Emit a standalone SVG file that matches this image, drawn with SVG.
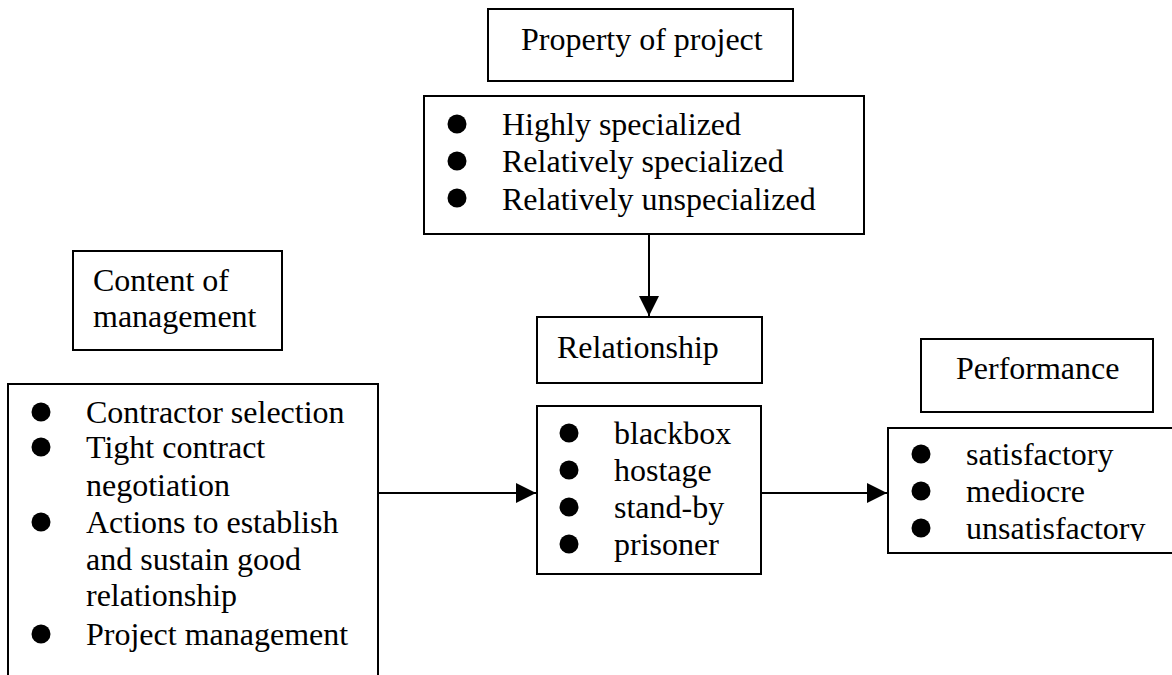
<svg xmlns="http://www.w3.org/2000/svg" width="1172" height="675" viewBox="0 0 1172 675">
<style>
.box{fill:#fff;stroke:#000;stroke-width:2}
.t{font-family:"Liberation Serif","Times New Roman",serif;font-size:32px;fill:#000}
.b{fill:#000}
.c{stroke:#000;stroke-width:2;fill:none}
</style>
<defs>
<marker id="ah" viewBox="0 0 20 20" refX="20" refY="10" markerWidth="20" markerHeight="20" markerUnits="userSpaceOnUse" orient="auto">
<path d="M0,0 L20,10 L0,20 Z" fill="#000"/>
</marker>
<clipPath id="perfclip"><rect x="888" y="428" width="290" height="113"/></clipPath>
</defs>
<rect width="1172" height="675" fill="#fff"/>

<g id="property-header">
<rect class="box" x="488" y="9" width="305" height="72"/>
<text class="t" x="521" y="50">Property of project</text>
</g>

<g id="property-list">
<rect class="box" x="424" y="96" width="440" height="138"/>
<circle class="b" cx="457" cy="124" r="9.5"/>
<circle class="b" cx="457" cy="161" r="9.5"/>
<circle class="b" cx="457" cy="198" r="9.5"/>
<text class="t" x="502" y="135">Highly specialized</text>
<text class="t" x="502" y="172">Relatively specialized</text>
<text class="t" x="502" y="210">Relatively unspecialized</text>
</g>

<g id="content-header">
<rect class="box" x="73" y="251" width="209" height="99"/>
<text class="t" x="93" y="291">Content of</text>
<text class="t" x="93" y="327">management</text>
</g>

<g id="content-list">
<rect class="box" x="8" y="384" width="370" height="310"/>
<circle class="b" cx="41" cy="412" r="9.5"/>
<circle class="b" cx="41" cy="447" r="9.5"/>
<circle class="b" cx="41" cy="522" r="9.5"/>
<circle class="b" cx="41" cy="634" r="9.5"/>
<text class="t" x="86" y="423">Contractor selection</text>
<text class="t" x="86" y="458">Tight contract</text>
<text class="t" x="86" y="496">negotiation</text>
<text class="t" x="86" y="533">Actions to establish</text>
<text class="t" x="86" y="570">and sustain good</text>
<text class="t" x="86" y="606">relationship</text>
<text class="t" x="86" y="645">Project management</text>
</g>

<g id="relationship-header">
<rect class="box" x="537" y="317" width="225" height="66"/>
<text class="t" x="557" y="358">Relationship</text>
</g>

<g id="relationship-list">
<rect class="box" x="537" y="406" width="224" height="168"/>
<circle class="b" cx="569" cy="433" r="9.5"/>
<circle class="b" cx="569" cy="470" r="9.5"/>
<circle class="b" cx="569" cy="507" r="9.5"/>
<circle class="b" cx="569" cy="544" r="9.5"/>
<text class="t" x="614" y="444">blackbox</text>
<text class="t" x="614" y="481">hostage</text>
<text class="t" x="614" y="518">stand-by</text>
<text class="t" x="614" y="555">prisoner</text>
</g>

<g id="performance-header">
<rect class="box" x="921" y="339" width="232" height="73"/>
<text class="t" x="956" y="379">Performance</text>
</g>

<g id="performance-list">
<rect class="box" x="888" y="428" width="300" height="125"/>
<g clip-path="url(#perfclip)">
<circle class="b" cx="921" cy="454" r="9.5"/>
<circle class="b" cx="921" cy="491" r="9.5"/>
<circle class="b" cx="921" cy="528" r="9.5"/>
<text class="t" x="966" y="465">satisfactory</text>
<text class="t" x="966" y="502">mediocre</text>
<text class="t" x="966" y="539">unsatisfactory</text>
</g>
</g>

<g id="connectors">
<line class="c" x1="649" y1="234" x2="649" y2="316" marker-end="url(#ah)"/>
<line class="c" x1="378" y1="493" x2="536" y2="493" marker-end="url(#ah)"/>
<line class="c" x1="762" y1="493" x2="887" y2="493" marker-end="url(#ah)"/>
</g>
</svg>
